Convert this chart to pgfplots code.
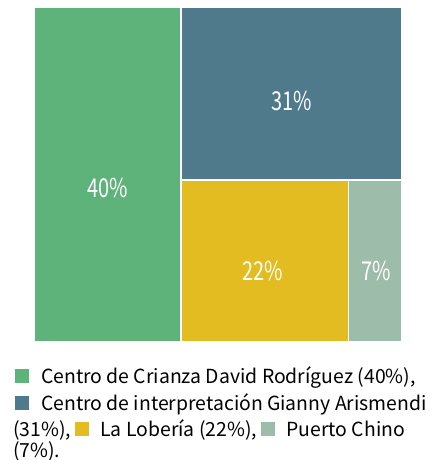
\documentclass[border=0pt]{standalone}
\usepackage{pgfplots}
\pgfplotsset{compat=1.18}
\usepackage{fontspec}
\setmainfont{Noto Sans CJK JP}
\definecolor{cgreen}{HTML}{5DB37A}
\definecolor{cblue}{HTML}{4F7A8B}
\definecolor{cyellow}{HTML}{E3BC22}
\definecolor{cgray}{HTML}{9EBCAA}
\newcommand{\sq}[1]{\textcolor{#1}{\rule{14pt}{14pt}}}
\newcommand{\lab}[1]{\scalebox{1}[1.3]{#1}}
\begin{document}
\begin{tikzpicture}
\path[use as bounding box] (0,0) rectangle (432pt,-460pt);
\begin{axis}[at={(34pt,-7pt)}, anchor=north west, scale only axis,
  width=368pt, height=335pt, xmin=0, xmax=100, ymin=0, ymax=100, hide axis, clip=false]
\addplot[fill=cgreen, draw=white, line width=1.5pt] coordinates {(0,0) (40,0) (40,100) (0,100)} -- cycle;
\addplot[fill=cblue, draw=white, line width=1.5pt] coordinates {(40,48.333) (100,48.333) (100,100) (40,100)} -- cycle;
\addplot[fill=cyellow, draw=white, line width=1.5pt] coordinates {(40,0) (85.517,0) (85.517,48.333) (40,48.333)} -- cycle;
\addplot[fill=cgray, draw=white, line width=1.5pt] coordinates {(85.517,0) (100,0) (100,48.333) (85.517,48.333)} -- cycle;
\node[white, anchor=base, inner sep=0pt, font=\fontsize{20}{24}\selectfont] at (axis cs:20.1,43.28) {\lab{40\%}};
\node[white, anchor=base, inner sep=0pt, font=\fontsize{20}{24}\selectfont] at (axis cs:70,68.96) {\lab{31\%}};
\node[white, anchor=base, inner sep=0pt, font=\fontsize{20}{24}\selectfont] at (axis cs:62.1,18.5) {\lab{22\%}};
\node[white, anchor=base, inner sep=0pt, font=\fontsize{20}{24}\selectfont] at (axis cs:93.1,18.5) {\lab{7\%}};
\end{axis}
\begin{scope}[every node/.style={anchor=base west, inner sep=0pt, font=\fontsize{19.4}{24}\selectfont}]
\node at (15pt,-383pt) {\sq{cgreen}\hspace{12pt}Centro de Crianza David Rodríguez (40\%),};
\node at (15pt,-410pt) {\sq{cblue}\hspace{12pt}Centro de interpretación Gianny Arismendi};
\node at (13pt,-436pt) {(31\%), \sq{cyellow}\hspace{11pt}La Lobería (22\%), \sq{cgray}\hspace{11pt}Puerto Chino};
\node at (13pt,-457pt) {(7\%).};
\end{scope}
\end{tikzpicture}
\end{document}
